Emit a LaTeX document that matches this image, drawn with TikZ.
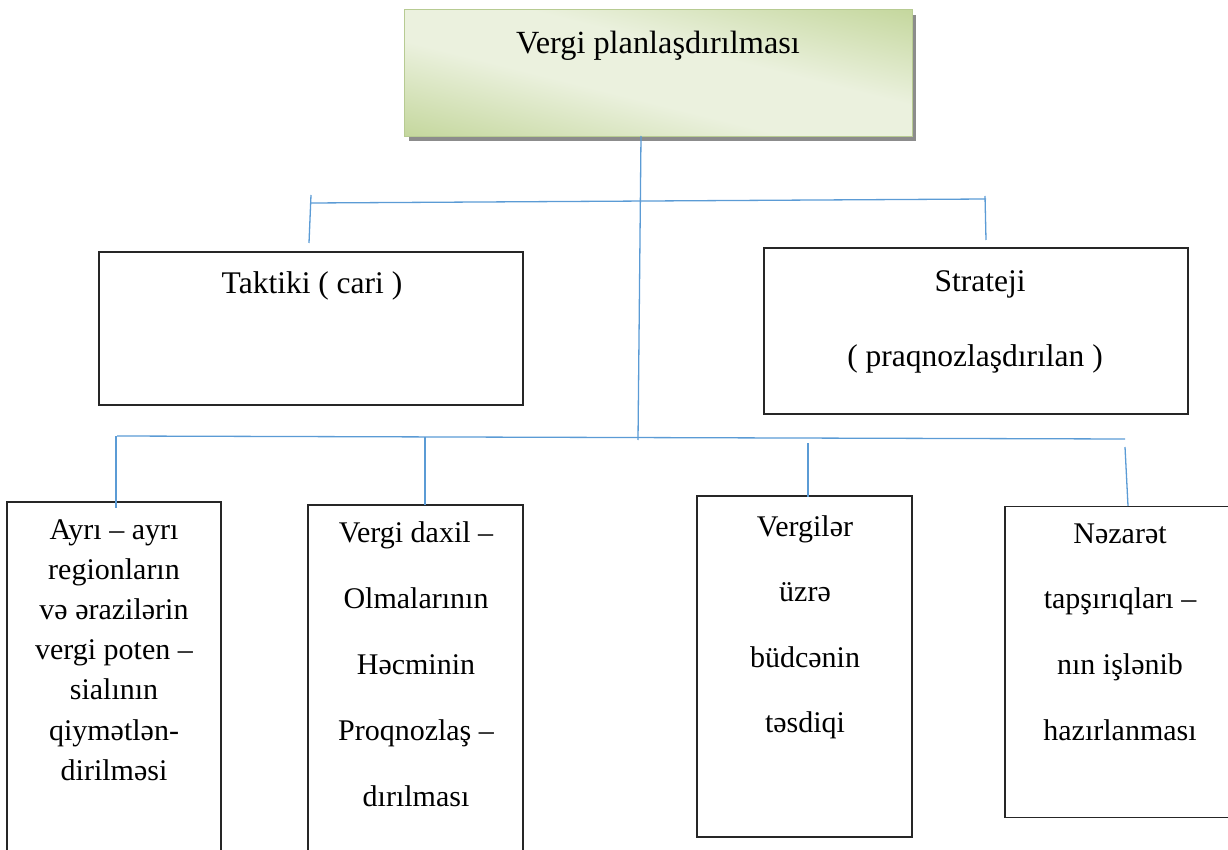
\documentclass[tikz,border=0pt]{standalone}
\usepackage{fontspec}
\setmainfont{Liberation Serif}
\usetikzlibrary{shadows}
\definecolor{conn}{HTML}{5B9BD5}
\definecolor{gdark}{HTML}{C3D69B}
\definecolor{glight}{HTML}{EBF1DE}
\definecolor{gedge}{HTML}{B7CB92}
\pgfdeclareverticalshading{topband}{100bp}{color(0bp)=(gdark); color(29bp)=(gdark); color(45bp)=(glight); color(55bp)=(glight); color(71bp)=(gdark); color(100bp)=(gdark)}
\tikzset{
  conn/.style={draw=conn, line width=1.3pt},
  box/.style={draw=black!85, line width=1.2pt, fill=white, inner sep=0pt},
  topbox/.style={draw=gedge, line width=1.2pt, fill=gdark, inner sep=0pt,
    drop shadow={shadow xshift=4pt, shadow yshift=-5pt, fill=black!45, opacity=1}},
  bigtxt/.style={font=\fontsize{31.5}{36}\selectfont, inner sep=0pt, anchor=base},
  toptxt/.style={font=\fontsize{32.3}{36}\selectfont, inner sep=0pt, anchor=base},
  txt/.style={font=\fontsize{30}{34}\selectfont, inner sep=0pt, anchor=base},
}
\begin{document}
\begin{tikzpicture}[x=1pt,y=-1pt]
\useasboundingbox (0,0) rectangle (1228,850);
\clip (0,0) rectangle (1228,850);
% top box
\node[topbox, minimum width=507pt, minimum height=126pt] (top) at (658.5,73) {};
\begin{scope}
  \clip (top.south west) rectangle (top.north east);
  \begin{scope}[transform canvas={rotate around={-14:(top.center)}}]
    \shade[shading=topband] ([xshift=-360pt,yshift=-150pt]top.center) rectangle ([xshift=360pt,yshift=150pt]top.center);
  \end{scope}
\end{scope}
\draw[gedge, line width=1.2pt] (top.south west) rectangle (top.north east);
\node[toptxt] (toptext) at (658,54) {Vergi planlaşdırılması};
% middle boxes
\node[box, minimum width=424pt, minimum height=153pt] (tak) at (311,328.5) {};
\node[bigtxt] (taktxt) at (312,293) {Taktiki ( cari )};
\node[box, minimum width=424pt, minimum height=166pt] (str) at (976,331) {};
\node[bigtxt] (strtxt1) at (980,291) {Strateji};
\node[bigtxt] (strtxt2) at (975,366) {( praqnozlaşdırılan )};
% bottom boxes
\node[box, minimum width=214pt, minimum height=368pt] (b1) at (114,686) {};
\node[box, minimum width=215pt, minimum height=365pt] (b2) at (415.5,687.5) {};
\node[box, minimum width=215pt, minimum height=341pt] (b3) at (804.5,666.5) {};
\node[box, minimum width=235pt, minimum height=311pt] (b4) at (1122.5,662) {};
% box 1 text
\node[txt] (a1) at (114,539) {Ayrı – ayrı};
\node[txt] (a2) at (114,579.2) {regionların};
\node[txt] (a3) at (114,619.4) {və ərazilərin};
\node[txt] (a4) at (114,659.6) {vergi poten –};
\node[txt] (a5) at (114,699.8) {sialının};
\node[txt] (a6) at (114,740) {qiymətlən-};
\node[txt] (a7) at (114,780.2) {dirilməsi};
% box 2 text
\node[txt] (c1) at (416,542) {Vergi daxil –};
\node[txt] (c2) at (416,608) {Olmalarının};
\node[txt] (c3) at (416,674) {Həcminin};
\node[txt] (c4) at (416,740) {Proqnozlaş –};
\node[txt] (c5) at (416,806) {dırılması};
% box 3 text
\node[txt] (d1) at (805,536) {Vergilər};
\node[txt] (d2) at (805,601.5) {üzrə};
\node[txt] (d3) at (805,667) {büdcənin};
\node[txt] (d4) at (805,732.5) {təsdiqi};
% box 4 text
\node[txt] (e1) at (1120,543) {Nəzarət};
\node[txt] (e2) at (1120,608.7) {tapşırıqları –};
\node[txt] (e3) at (1120,674.4) {nın işlənib};
\node[txt] (e4) at (1120,740) {hazırlanması};
% connector points
\coordinate (v0) at (641,136);
\coordinate (v1) at (638,440);
\coordinate (hl) at (311,203);
\coordinate (hr) at (986,199);
\coordinate (tl1) at (311,195);
\coordinate (tl2) at (309,243);
\coordinate (tr1) at (985,196);
\coordinate (tr2) at (986,240);
\coordinate (ll) at (117,436);
\coordinate (lr) at (1125,439);
\coordinate (d1a) at (116,436);
\coordinate (d1b) at (116,508);
\coordinate (d2a) at (425,437);
\coordinate (d2b) at (425,505);
\coordinate (d3a) at (808,443);
\coordinate (d3b) at (808,497);
\coordinate (d4a) at (1125,447);
\coordinate (d4b) at (1128,506);
% connectors
\draw[conn] (v0) -- (v1);
\draw[conn] (hl) -- (hr);
\draw[conn] (tl1) -- (tl2);
\draw[conn] (tr1) -- (tr2);
\draw[conn] (ll) -- (lr);
\draw[conn] (d1a) -- (d1b);
\draw[conn] (d2a) -- (d2b);
\draw[conn] (d3a) -- (d3b);
\draw[conn] (d4a) -- (d4b);
\end{tikzpicture}
\end{document}
